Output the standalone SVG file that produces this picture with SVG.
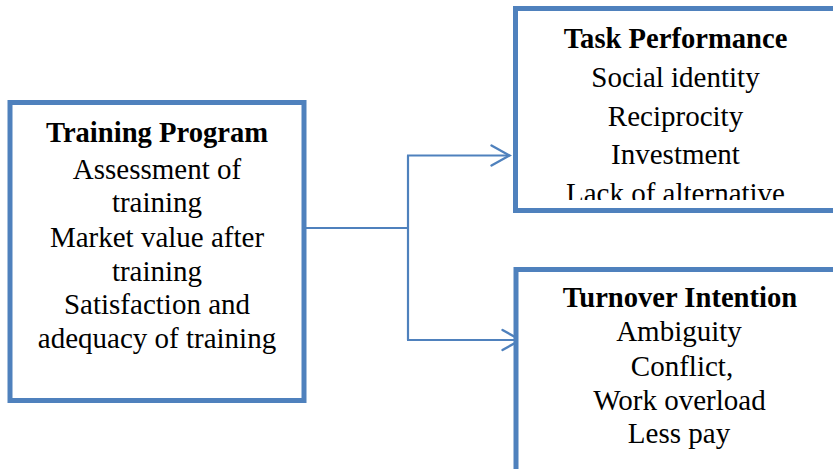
<svg xmlns="http://www.w3.org/2000/svg" width="833" height="469" viewBox="0 0 833 469">
  <style>
    .box { fill: #ffffff; stroke: #4F81BD; stroke-width: 5; }
    .conn { fill: none; stroke: #4F81BD; stroke-width: 2.2; }
    .head { fill: none; stroke: #4F81BD; stroke-width: 2.4; stroke-linecap: round; stroke-linejoin: miter; }
    text { font-family: "Liberation Serif", "Times New Roman", serif; font-size: 29px; fill: #000000; text-anchor: middle; }
    .title { font-weight: bold; font-size: 28.6px; }
  </style>
  <defs>
    <clipPath id="perfClip">
      <rect x="518" y="11" width="320" height="189"/>
    </clipPath>
  </defs>

  <g id="connectors">
    <polyline class="conn" points="304,228 408,228"/>
    <polyline class="conn" points="408,155.5 408,340"/>
    <polyline class="conn" points="407,155.5 509,155.5"/>
    <polyline class="conn" points="407,340 520,340"/>
    <polyline class="head" points="491.5,145.5 509.5,155.5 491.5,165.5"/>
    <polyline class="head" points="502.5,330 520.5,340 502.5,350"/>
  </g>

  <g id="training-program">
    <rect class="box" x="10" y="102.5" width="294" height="298"/>
    <text class="title" x="157" y="141.7">Training Program</text>
    <text x="157" y="178.5">Assessment of</text>
    <text x="157" y="212">training</text>
    <text x="157" y="246.5">Market value after</text>
    <text x="157" y="280.5">training</text>
    <text x="157" y="314.3">Satisfaction and</text>
    <text x="157" y="348.3">adequacy of training</text>
  </g>

  <g id="task-performance">
    <rect class="box" x="515.5" y="8.5" width="330" height="202"/>
    <text class="title" x="675.5" y="47.5">Task Performance</text>
    <text x="675.5" y="86.7">Social identity</text>
    <text x="675.5" y="125.5">Reciprocity</text>
    <text x="675.5" y="164">Investment</text>
    <text x="675.5" y="203" clip-path="url(#perfClip)">Lack of alternative</text>
  </g>

  <g id="turnover-intention">
    <rect class="box" x="516" y="269.5" width="330" height="210"/>
    <text class="title" x="680" y="306.7">Turnover Intention</text>
    <text x="679" y="341">Ambiguity</text>
    <text x="682" y="376">Conflict,</text>
    <text x="679.5" y="410">Work overload</text>
    <text x="679" y="443.3">Less pay</text>
  </g>
</svg>
